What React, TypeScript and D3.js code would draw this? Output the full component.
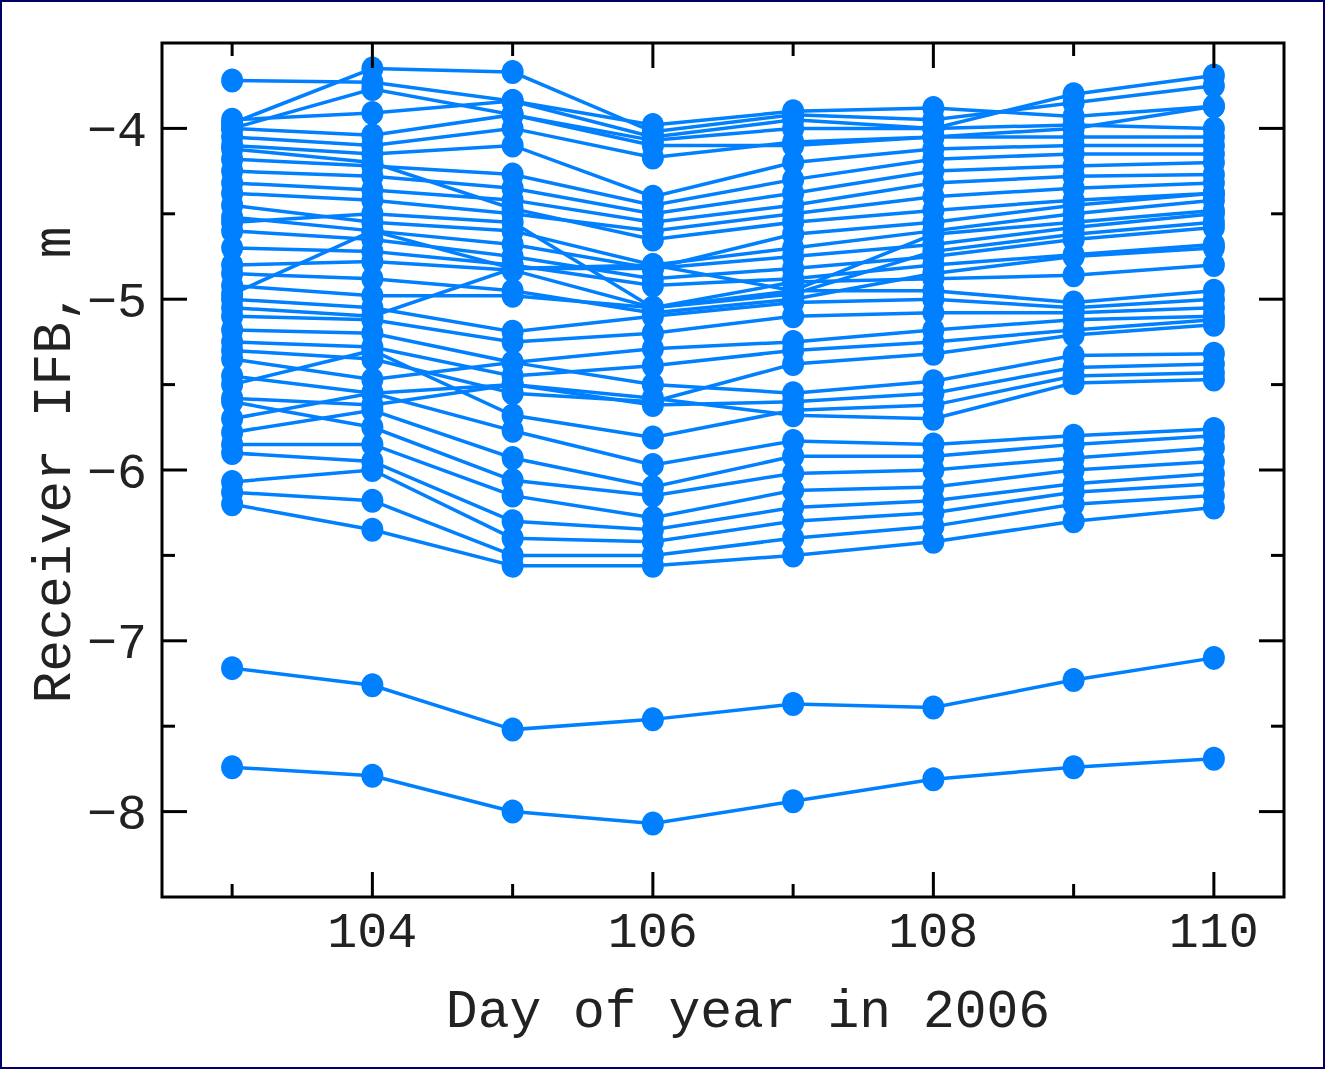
import React from "react";
import * as d3 from "d3";

const days = [103, 104, 105, 106, 107, 108, 109, 110];

// Receiver IFB series (m), one value per day
const T1 = [-3.72, -3.73, -3.84, -4.05, -3.95, -4.0, -3.8, -3.69];
const T2 = [-3.97, -3.65, -3.67, -4.02, -3.92, -3.95, -3.85, -3.75];
const T3 = [-4.0, -3.77, -3.92, -4.1, -4.1, -4.05, -4.0, -3.87];
const Q1 = [-3.95, -3.91, -3.84, -3.98, -3.9, -3.88, -3.93, -3.87];
const Q2 = [-4.0, -4.04, -3.92, -4.07, -4.0, -4.0, -3.98, -4.0];
const Q3 = [-4.05, -4.1, -4.0, -4.17, -4.08, -4.05, -4.05, -4.05];
const Q4 = [-4.1, -4.15, -4.1, -4.4, -4.2, -4.12, -4.1, -4.1];
const Q5 = [-4.18, -4.22, -4.27, -4.45, -4.3, -4.18, -4.15, -4.15];
const Q6 = [-4.25, -4.28, -4.35, -4.5, -4.38, -4.25, -4.22, -4.2];
const Q7 = [-4.32, -4.36, -4.42, -4.55, -4.45, -4.32, -4.28, -4.27];
const Q8 = [-4.38, -4.42, -4.5, -4.6, -4.5, -4.4, -4.35, -4.32];
const Q9 = [-4.12, -4.2, -4.47, -4.65, -4.55, -4.48, -4.42, -4.38];
const P1 = [-4.45, -4.55, -4.6, -4.8, -4.7, -4.6, -4.5, -4.42];
const P2 = [-4.52, -4.6, -4.68, -4.82, -4.75, -4.68, -4.58, -4.5];
const P3 = [-4.6, -4.65, -4.75, -4.88, -4.82, -4.75, -4.65, -4.58];
const P4 = [-4.7, -4.72, -4.8, -4.92, -4.88, -4.8, -4.74, -4.68];
const P5 = [-4.8, -4.78, -4.83, -5.05, -4.9, -4.88, -4.86, -4.8];
const P6 = [-4.97, -4.6, -4.82, -4.8, -4.95, -4.62, -4.55, -4.48];
const R1 = [-4.85, -4.88, -4.95, -5.08, -5.0, -4.85, -4.75, -4.7];
const R2 = [-4.55, -4.5, -4.55, -5.05, -4.97, -4.72, -4.62, -4.55];
const N1 = [-4.92, -4.98, -4.98, -5.05, -4.95, -4.95, -5.02, -4.95];
const N2 = [-5.0, -5.05, -5.19, -5.1, -5.02, -5.0, -5.05, -5.0];
const N3 = [-5.1, -5.12, -5.25, -5.2, -5.1, -5.08, -5.08, -5.05];
const N4 = [-5.18, -5.2, -5.37, -5.29, -5.25, -5.18, -5.12, -5.1];
const N5 = [-5.25, -5.28, -5.45, -5.39, -5.3, -5.25, -5.18, -5.12];
const N6 = [-5.3, -5.35, -5.55, -5.6, -5.38, -5.32, -5.21, -5.15];
const N7 = [-5.05, -5.1, -4.82, -4.82, -4.62, -4.55, -4.45, -4.38];
const M1 = [-5.35, -5.47, -5.37, -5.5, -5.55, -5.48, -5.33, -5.32];
const M2 = [-5.45, -5.55, -5.5, -5.62, -5.6, -5.55, -5.4, -5.38];
const M3 = [-5.5, -5.3, -5.68, -5.81, -5.65, -5.62, -5.45, -5.43];
const M4 = [-5.58, -5.62, -5.5, -5.58, -5.68, -5.7, -5.49, -5.47];
const L1 = [-5.7, -5.55, -5.77, -5.97, -5.83, -5.85, -5.8, -5.76];
const L2 = [-5.78, -5.65, -5.93, -6.1, -5.92, -5.92, -5.85, -5.8];
const L3 = [-5.6, -5.75, -6.06, -6.15, -6.02, -6.0, -5.93, -5.87];
const L4 = [-5.85, -5.85, -6.15, -6.28, -6.12, -6.1, -6.0, -5.95];
const L5 = [-5.9, -5.95, -6.3, -6.35, -6.22, -6.18, -6.08, -6.02];
const L6 = [-6.07, -6.0, -6.4, -6.42, -6.3, -6.25, -6.13, -6.08];
const L7 = [-6.13, -6.18, -6.5, -6.5, -6.4, -6.33, -6.2, -6.15];
const L8 = [-6.2, -6.35, -6.56, -6.56, -6.5, -6.42, -6.3, -6.22];
const B1 = [-7.16, -7.26, -7.52, -7.46, -7.37, -7.39, -7.23, -7.1];
const B2 = [-7.74, -7.79, -8.0, -8.07, -7.94, -7.81, -7.74, -7.69];

const series = [
  T1, T2, T3, Q1, Q2, Q3, Q4, Q5, Q6, Q7, Q8, Q9, P1, P2, P3, P4, P5, P6, R1, R2,
  N1, N2, N3, N4, N5, N6, N7, M1, M2, M3, M4, L1, L2, L3, L4, L5, L6, L7, L8, B1, B2,
];

const yMajor = [-4, -5, -6, -7, -8];
const yMinor = [-4.5, -5.5, -6.5, -7.5];
const xMajor = [104, 106, 108, 110];
const xMinor = [103, 105, 107, 109];

const W = 1325;
const H = 1069;
const left = 162, right = 1284, top = 43, bottom = 897;
const FONT = "'Courier New', 'Liberation Mono', monospace";
const BLUE = "#0080ff";

export default function App() {
  const x = d3.scaleLinear().domain([102.5, 110.5]).range([left, right]);
  const y = d3.scaleLinear().domain([-8.5, -3.5]).range([bottom, top]);
  const line = d3
    .line<number>()
    .x((_, i) => x(days[i]))
    .y((v) => y(v));
  const fmt = (v: number) => (v < 0 ? "\u2212" + Math.abs(v) : String(v));
  const MAJ = 25, MIN = 13;

  return (
    <svg
      width={W}
      height={H}
      style={{ position: "absolute", left: 0, top: 0, background: "#fff" }}
    >
      <rect x={1} y={1} width={W - 2} height={H - 2} fill="#fff" stroke="#000066" strokeWidth={2} />
      <g>
        {series.map((s, k) => (
          <g key={k}>
            <path d={line(s) || ""} fill="none" stroke={BLUE} strokeWidth={3.5} />
            {s.map((v, i) => (
              <ellipse key={i} cx={x(days[i])} cy={y(v)} rx={11} ry={12} fill={BLUE} />
            ))}
          </g>
        ))}
      </g>
      <g stroke="#000" strokeWidth={3}>
        {yMajor.map((v) => (
          <g key={"ym" + v}>
            <line x1={left} x2={left + MAJ} y1={y(v)} y2={y(v)} />
            <line x1={right} x2={right - MAJ} y1={y(v)} y2={y(v)} />
          </g>
        ))}
        {yMinor.map((v) => (
          <g key={"yn" + v}>
            <line x1={left} x2={left + MIN} y1={y(v)} y2={y(v)} />
            <line x1={right} x2={right - MIN} y1={y(v)} y2={y(v)} />
          </g>
        ))}
        {xMajor.map((v) => (
          <g key={"xm" + v}>
            <line x1={x(v)} x2={x(v)} y1={bottom} y2={bottom - MAJ} />
            <line x1={x(v)} x2={x(v)} y1={top} y2={top + MAJ} />
          </g>
        ))}
        {xMinor.map((v) => (
          <g key={"xn" + v}>
            <line x1={x(v)} x2={x(v)} y1={bottom} y2={bottom - MIN} />
            <line x1={x(v)} x2={x(v)} y1={top} y2={top + MIN} />
          </g>
        ))}
      </g>
      <rect x={left} y={top} width={right - left} height={bottom - top} fill="none" stroke="#000" strokeWidth={3} />
      <g fontFamily={FONT} fill="#222">
        {yMajor.map((v) => (
          <text key={"yl" + v} x={147} y={y(v)} dy="0.35em" textAnchor="end" fontSize={50}>
            {fmt(v)}
          </text>
        ))}
        {xMajor.map((v) => (
          <text key={"xl" + v} x={x(v)} y={947} textAnchor="middle" fontSize={50}>
            {v}
          </text>
        ))}
        <text x={748} y={1027} textAnchor="middle" fontSize={53}>
          Day of year in 2006
        </text>
        <text transform={`translate(70,465) rotate(-90)`} textAnchor="middle" fontSize={53}>
          Receiver IFB, m
        </text>
      </g>
    </svg>
  );
}
